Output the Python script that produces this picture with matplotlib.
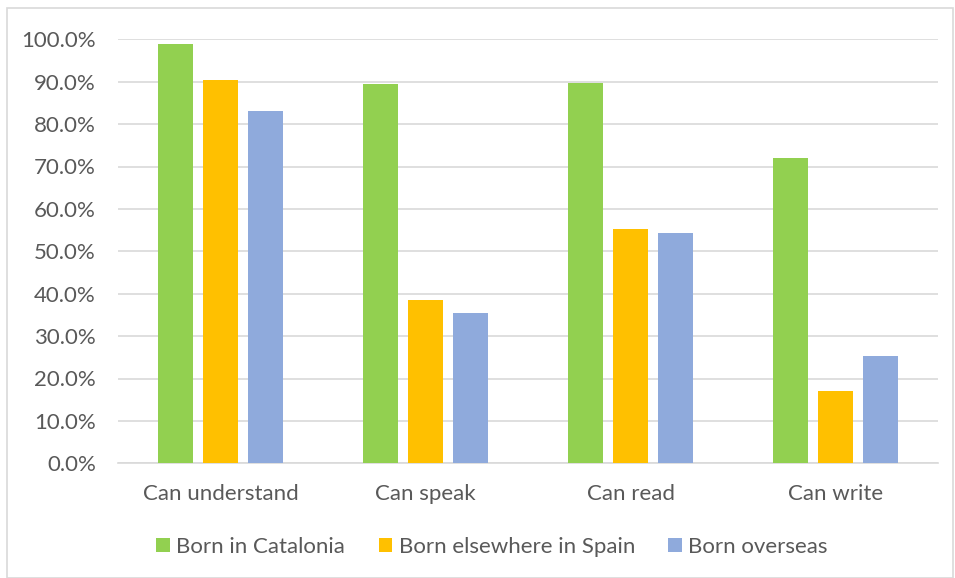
import numpy as np
import matplotlib
matplotlib.use("Agg")
import matplotlib.pyplot as plt
from matplotlib.patches import Rectangle
from matplotlib.ticker import PercentFormatter

# ── 数据 ──────────────────────────────────────────────────────────────────────
categories = ["Can understand", "Can speak", "Can read", "Can write"]
series_names = ["Born in Catalonia", "Born elsewhere in Spain", "Born overseas"]
born_catalonia = [98.9, 89.5, 89.8, 71.9]
born_spain = [90.3, 38.5, 55.2, 17.1]
born_overseas = [83.1, 35.4, 54.3, 25.3]
colors = ["#92d050", "#ffc000", "#8faadc"]

# ── 绘图 ──────────────────────────────────────────────────────────────────────
plt.rcParams["font.family"] = ["Lato", "DejaVu Sans"]
text_col = "#595959"
grid_col = "#d9d9d9"

fig = plt.figure(figsize=(9.55, 5.78), dpi=100)
ax = fig.add_axes([118 / 955, 1 - 463.3 / 578, 820 / 955, 424 / 578])

x = np.arange(len(categories))
width = 0.17
offsets = [-0.22, 0.0, 0.22]
for vals, off, c, name in zip([born_catalonia, born_spain, born_overseas], offsets, colors, series_names):
    ax.bar(x + off, vals, width, color=c, label=name, zorder=3)

ax.set_xlim(-0.5, len(categories) - 0.5)
ax.set_ylim(0, 100)
ax.set_yticks(np.arange(0, 101, 10))
ax.yaxis.set_major_formatter(PercentFormatter(decimals=1))
ax.set_xticks(x)
ax.set_xticklabels(categories)

ax.grid(axis="y", color=grid_col, linewidth=1.2, zorder=0)
for s in ["left", "right", "top"]:
    ax.spines[s].set_visible(False)
ax.spines["bottom"].set_color(grid_col)
ax.spines["bottom"].set_linewidth(1.2)
ax.tick_params(axis="y", length=0, pad=16, labelsize=16, labelcolor=text_col)
ax.tick_params(axis="x", length=0, pad=15, labelsize=16, labelcolor=text_col)

handles, labels = ax.get_legend_handles_labels()
fig.legend(handles, labels, loc="center", bbox_to_anchor=(492 / 955, 1 - 547 / 578),
           ncol=3, frameon=False, fontsize=16, labelcolor=text_col,
           handlelength=0.6, handleheight=0.6, handletextpad=0.3, columnspacing=1.5)

# 外框
fig.patches.append(Rectangle((7 / 955, 0.0), 946 / 955, 1 - 8 / 578, transform=fig.transFigure,
                             fill=False, edgecolor=grid_col, linewidth=1.2))

plt.savefig("out.png", dpi=100)
